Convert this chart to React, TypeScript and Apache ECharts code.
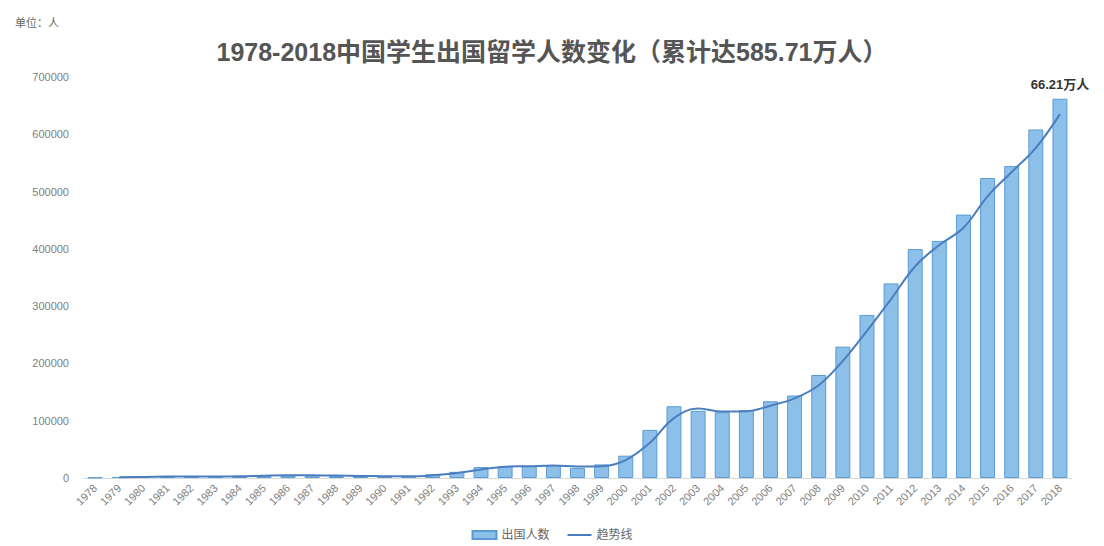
import React, { useEffect, useRef } from "react";
import * as echarts from "echarts";

const years = [
  "1978", "1979", "1980", "1981", "1982", "1983", "1984", "1985", "1986", "1987",
  "1988", "1989", "1990", "1991", "1992", "1993", "1994", "1995", "1996", "1997",
  "1998", "1999", "2000", "2001", "2002", "2003", "2004", "2005", "2006", "2007",
  "2008", "2009", "2010", "2011", "2012", "2013", "2014", "2015", "2016", "2017", "2018",
];

const students = [
  860, 1777, 2124, 2922, 2326, 2633, 3073, 4888, 4676, 4703,
  3786, 3329, 2950, 2900, 6540, 10742, 19071, 20381, 20905, 22410,
  17622, 23749, 38989, 83973, 125179, 117307, 114682, 118515, 134000, 144000,
  179800, 229300, 284700, 339700, 399600, 413900, 459800, 523700, 544500, 608400, 662100,
];

// 2-period moving-average trend line (starts at 1979)
const trend: (number | null)[] = [
  null, 1320, 1950, 2520, 2620, 2480, 2850, 3980, 4780, 4690,
  4240, 3560, 3140, 2930, 4720, 8640, 14910, 19730, 20640, 21660,
  20020, 20690, 31370, 61480, 104580, 121240, 115990, 116600, 126260, 139000,
  161900, 204550, 257000, 312200, 369650, 406750, 436850, 491750, 534100, 576450, 635250,
];

const yTicks = [0, 100000, 200000, 300000, 400000, 500000, 600000, 700000];

const titleText = "1978-2018中国学生出国留学人数变化（累计达585.71万人）";
const unitText = "单位：人";
const lastLabel = "66.21万人";

export default function App() {
  const ref = useRef<HTMLDivElement>(null);
  useEffect(() => {
    if (!ref.current) return;
    const chart = echarts.init(ref.current, null, { renderer: "svg" });
    const font = "'Liberation Sans', 'Noto Sans CJK SC', sans-serif";
    chart.setOption({
      animation: false,
      backgroundColor: "#ffffff",
      textStyle: { fontFamily: font },
      title: [
        {
          text: titleText,
          left: "center",
          top: 34,
          textStyle: { fontSize: 25, fontWeight: "bold", color: "#555555", fontFamily: font },
        },
        {
          text: unitText,
          left: 10,
          top: 12,
          textStyle: { fontSize: 11, fontWeight: "normal", color: "#666", fontFamily: font },
        },
      ],
      legend: {
        bottom: 0,
        left: "center",
        itemWidth: 24,
        itemHeight: 8,
        itemGap: 18,
        textStyle: { fontSize: 12, color: "#666" },
        data: [
          { name: "出国人数", icon: "rect" },
          { name: "趋势线", icon: "path://M0,3L24,3L24,5L0,5Z" },
        ],
      },
      grid: { left: 83, right: 32, top: 77, bottom: 68 },
      xAxis: {
        type: "category",
        data: years,
        axisLine: { show: true, lineStyle: { color: "#d9d9d9" } },
        axisTick: { show: false },
        axisLabel: { rotate: 45, fontSize: 11, color: "#808080", interval: 0, margin: 8 },
      },
      yAxis: {
        type: "value",
        min: yTicks[0],
        max: yTicks[yTicks.length - 1],
        interval: 100000,
        splitLine: { show: false },
        axisLine: { show: false },
        axisTick: { show: false },
        axisLabel: {
          fontSize: 11,
          color: "#808080",
          margin: 14,
          formatter: (v: number) => String(v),
        },
      },
      series: [
        {
          name: "出国人数",
          type: "bar",
          barWidth: "62%",
          data: students.map((v, i) =>
            i === students.length - 1
              ? {
                  value: v,
                  label: {
                    show: true,
                    position: "top",
                    distance: 8,
                    formatter: lastLabel,
                    fontSize: 13,
                    fontWeight: "bold",
                    color: "#333",
                  },
                }
              : v
          ),
          itemStyle: { color: "#8cc0e9", borderColor: "#5b9bd5", borderWidth: 1 },
        },
        {
          name: "趋势线",
          type: "line",
          data: trend,
          smooth: 0.4,
          symbol: "none",
          lineStyle: { color: "#4a7ebf", width: 2 },
          itemStyle: { color: "#4a7ebf" },
        },
      ],
    });
    return () => chart.dispose();
  }, []);
  return (
    <div
      ref={ref}
      style={{ position: "absolute", left: 0, top: 0, width: 1104, height: 546 }}
    />
  );
}
